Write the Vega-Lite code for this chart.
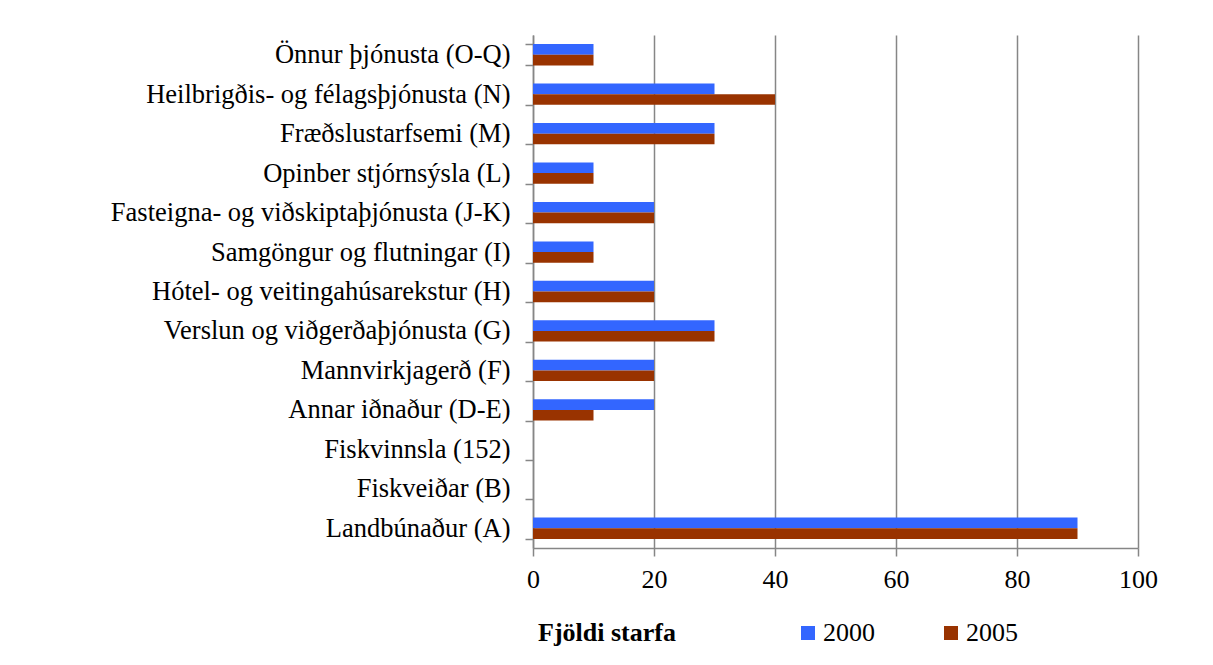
{
  "$schema": "https://vega.github.io/schema/vega-lite/v6.json",
  "autosize": {"type": "none"},
  "width": 605,
  "height": 513,
  "padding": {"left": 533, "top": 35, "right": 75, "bottom": 117},
  "background": "white",
  "data": {
    "values": [
      {"sector": "Önnur þjónusta (O-Q)", "year": "2000", "value": 10},
      {"sector": "Önnur þjónusta (O-Q)", "year": "2005", "value": 10},
      {"sector": "Heilbrigðis- og félagsþjónusta (N)", "year": "2000", "value": 30},
      {"sector": "Heilbrigðis- og félagsþjónusta (N)", "year": "2005", "value": 40},
      {"sector": "Fræðslustarfsemi (M)", "year": "2000", "value": 30},
      {"sector": "Fræðslustarfsemi (M)", "year": "2005", "value": 30},
      {"sector": "Opinber stjórnsýsla (L)", "year": "2000", "value": 10},
      {"sector": "Opinber stjórnsýsla (L)", "year": "2005", "value": 10},
      {"sector": "Fasteigna- og viðskiptaþjónusta (J-K)", "year": "2000", "value": 20},
      {"sector": "Fasteigna- og viðskiptaþjónusta (J-K)", "year": "2005", "value": 20},
      {"sector": "Samgöngur og flutningar (I)", "year": "2000", "value": 10},
      {"sector": "Samgöngur og flutningar (I)", "year": "2005", "value": 10},
      {"sector": "Hótel- og veitingahúsarekstur (H)", "year": "2000", "value": 20},
      {"sector": "Hótel- og veitingahúsarekstur (H)", "year": "2005", "value": 20},
      {"sector": "Verslun og viðgerðaþjónusta (G)", "year": "2000", "value": 30},
      {"sector": "Verslun og viðgerðaþjónusta (G)", "year": "2005", "value": 30},
      {"sector": "Mannvirkjagerð (F)", "year": "2000", "value": 20},
      {"sector": "Mannvirkjagerð (F)", "year": "2005", "value": 20},
      {"sector": "Annar iðnaður (D-E)", "year": "2000", "value": 20},
      {"sector": "Annar iðnaður (D-E)", "year": "2005", "value": 10},
      {"sector": "Fiskvinnsla (152)", "year": "2000", "value": 0},
      {"sector": "Fiskvinnsla (152)", "year": "2005", "value": 0},
      {"sector": "Fiskveiðar (B)", "year": "2000", "value": 0},
      {"sector": "Fiskveiðar (B)", "year": "2005", "value": 0},
      {"sector": "Landbúnaður (A)", "year": "2000", "value": 90},
      {"sector": "Landbúnaður (A)", "year": "2005", "value": 90}
    ]
  },
  "mark": {"type": "bar"},
  "encoding": {
    "y": {
      "field": "sector",
      "type": "nominal",
      "sort": null,
      "scale": {"paddingInner": 0.46, "paddingOuter": 0.23},
      "axis": {
        "title": null,
        "grid": false,
        "tickBand": "extent",
        "domainColor": "#868686",
        "domainWidth": 1.5,
        "tickColor": "#868686",
        "tickWidth": 1.5,
        "tickSize": 8,
        "labelPadding": 15,
        "labelFontSize": 26.5,
        "labelColor": "black",
        "labelLimit": 0
      }
    },
    "yOffset": {
      "field": "year",
      "type": "nominal",
      "sort": ["2000", "2005"],
      "scale": {"paddingInner": 0, "paddingOuter": 0}
    },
    "x": {
      "field": "value",
      "type": "quantitative",
      "scale": {"domain": [0, 100], "nice": false},
      "axis": {
        "title": null,
        "values": [0, 20, 40, 60, 80, 100],
        "grid": true,
        "gridColor": "#868686",
        "gridWidth": 1.5,
        "domainColor": "#868686",
        "domainWidth": 1.5,
        "tickColor": "#868686",
        "tickWidth": 1.5,
        "tickSize": 8,
        "labelPadding": 10,
        "labelFontSize": 26,
        "labelColor": "black",
        "labelFlush": false
      }
    },
    "color": {
      "field": "year",
      "type": "nominal",
      "scale": {"domain": ["2000", "2005"], "range": ["#3366FF", "#993300"]},
      "legend": {
        "title": "Fjöldi starfa",
        "orient": "none",
        "legendX": 5,
        "legendY": 585,
        "direction": "horizontal",
        "titleOrient": "left",
        "titleFontSize": 26,
        "titleFontWeight": "bold",
        "titleColor": "black",
        "titlePadding": 119,
        "labelFontSize": 26,
        "labelColor": "black",
        "symbolType": "square",
        "symbolSize": 196,
        "symbolStrokeWidth": 0,
        "labelOffset": 2,
        "columnPadding": 63
      }
    }
  },
  "config": {
    "view": {"stroke": null},
    "font": "Liberation Serif"
  }
}
